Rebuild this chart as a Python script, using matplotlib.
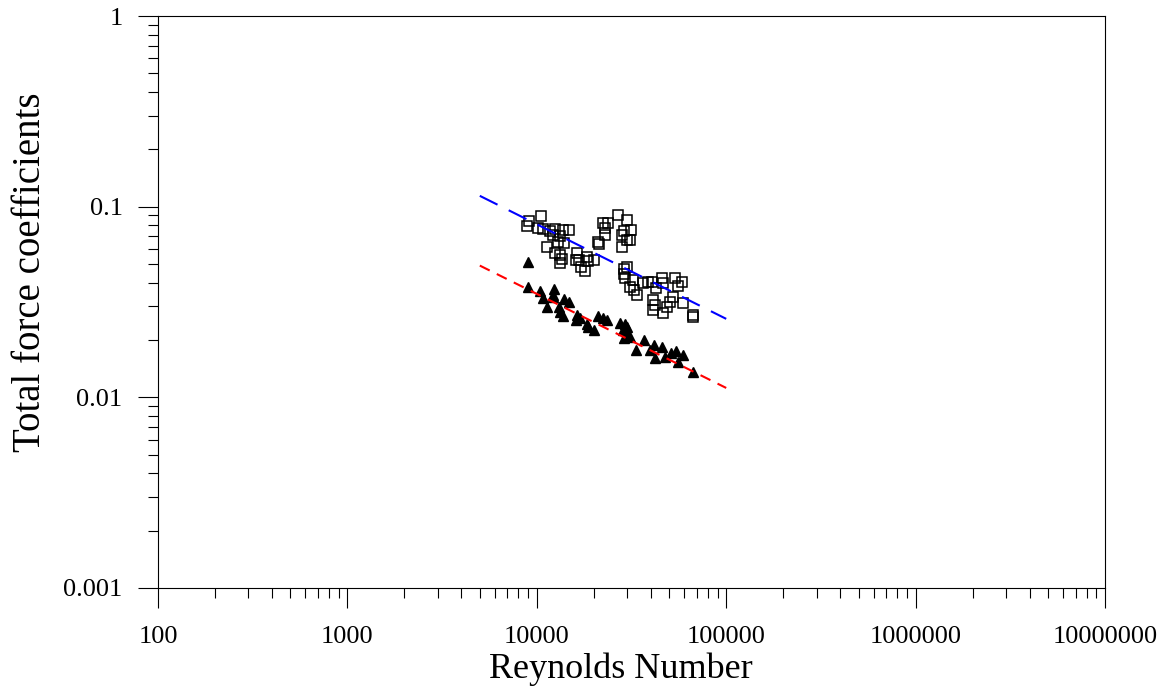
import numpy as np
import matplotlib
matplotlib.use("Agg")
from matplotlib import pyplot as plt
from matplotlib.ticker import LogLocator, FuncFormatter, NullFormatter

plt.rc('font', family='Liberation Serif')

# open squares
re_sq = [9120, 10490, 8910, 10180, 10740, 11740, 12480, 13800, 14840, 12130,
         13260, 12990, 13970, 11360, 12480, 13260, 13540, 13260, 16360, 16100,
         16760, 18480, 18700, 20050, 17120, 17970, 22280, 23850, 22910, 22910,
         21120, 21380, 26930, 29830, 28870, 31320, 28070, 29830, 31050, 28070,
         28870, 30040, 28870, 29220, 32090, 31050, 32600, 33690, 36500, 38790,
         40440, 45650, 46200, 42450, 40930, 42070, 41210, 46200, 48510, 50500,
         52180, 53660, 55860, 58210, 58930, 67040, 67040]
cf_sq = [0.0845, 0.0897, 0.0795, 0.0770, 0.0761, 0.0748, 0.0761, 0.0755, 0.0755, 0.0710,
         0.0702, 0.0653, 0.0643, 0.0612, 0.0574, 0.0558, 0.0530, 0.0505, 0.0574, 0.0525,
         0.0525, 0.0543, 0.0521, 0.0525, 0.0481, 0.0462, 0.0818, 0.0818, 0.0770, 0.0710,
         0.0656, 0.0637, 0.0901, 0.0852, 0.0748, 0.0755, 0.0710, 0.0669, 0.0669, 0.0612,
         0.0469, 0.0481, 0.0444, 0.0421, 0.0413, 0.0381, 0.0366, 0.0344, 0.0400, 0.0404,
         0.0404, 0.0421, 0.0400, 0.0373, 0.0324, 0.0305, 0.0287, 0.0276, 0.0299, 0.0318,
         0.0337, 0.0421, 0.0384, 0.0404, 0.0314, 0.0270, 0.0265]

# filled triangles
re_tri = [9020, 9020, 10400, 10740, 11360, 12330, 12220, 12220, 13920, 14840,
          13150, 13260, 13700, 16360, 16100, 16910, 18350, 18700, 20050, 21120,
          22280, 23560, 27500, 29220, 29830, 28620, 29830, 31050, 28870, 33400,
          36810, 39610, 41580, 42070, 45650, 47520, 50930, 54310, 58930, 55860,
          67040]
cf_tri = [0.0515, 0.0378, 0.0363, 0.0331, 0.0299, 0.0369, 0.0344, 0.0335, 0.0327, 0.0318,
          0.0299, 0.0281, 0.0267, 0.0270, 0.0255, 0.0260, 0.0243, 0.0233, 0.0226, 0.0267,
          0.0260, 0.0253, 0.0245, 0.0243, 0.0235, 0.0226, 0.0215, 0.0207, 0.0204, 0.0177,
          0.0200, 0.0177, 0.0188, 0.0160, 0.0183, 0.0163, 0.0170, 0.0176, 0.0167, 0.0154,
          0.0135]

# fitted lines (end points)
fit_re = [5000, 100000]
fit_blue = [0.114, 0.0258]
fit_red = [0.0491, 0.0112]

fig = plt.figure(figsize=(11.67, 6.97), dpi=100)
ax = fig.add_axes([0.1354, 0.1564, 0.8115, 0.8206])

ax.plot(re_sq, cf_sq, 's', mfc='none', mec='black', mew=1.1, ms=6.5, zorder=2)
ax.plot(re_tri, cf_tri, '^', color='black', ms=6.5, zorder=2)
ax.plot(fit_re, fit_blue, color='blue', lw=1.5, dashes=(9.5, 6), zorder=3)
ax.plot(fit_re, fit_red, color='red', lw=1.5, dashes=(5.3, 3.8), zorder=3)

ax.set_xscale('log')
ax.set_yscale('log')
ax.set_xlim(100, 1e7)
ax.set_ylim(0.001, 1)

ax.xaxis.set_major_locator(LogLocator(base=10, numticks=20))
ax.yaxis.set_major_locator(LogLocator(base=10, numticks=20))
ax.xaxis.set_minor_locator(LogLocator(base=10, subs=np.arange(2, 10), numticks=20))
ax.yaxis.set_minor_locator(LogLocator(base=10, subs=np.arange(2, 10), numticks=20))
ax.xaxis.set_major_formatter(FuncFormatter(lambda v, p: '%d' % round(v)))
ax.yaxis.set_major_formatter(FuncFormatter(lambda v, p: '%g' % v))
ax.xaxis.set_minor_formatter(NullFormatter())
ax.yaxis.set_minor_formatter(NullFormatter())

ax.tick_params(which='major', direction='out', length=14.5, width=0.8, labelsize=19)
ax.tick_params(axis='x', which='major', pad=13)
ax.tick_params(axis='y', which='major', pad=11)
ax.tick_params(which='minor', direction='out', length=7.2, width=0.8)
ax.tick_params(top=False, right=False, which='both')
for s in ax.spines.values():
    s.set_linewidth(0.8)

ax.set_xlabel("Reynolds Number", fontsize=26)
ax.set_ylabel("Total force coefficients", fontsize=28)
ax.xaxis.set_label_coords(0.489, -0.112)
ax.yaxis.set_label_coords(-0.1155, 0.552)

plt.savefig("out.png", dpi=100)
